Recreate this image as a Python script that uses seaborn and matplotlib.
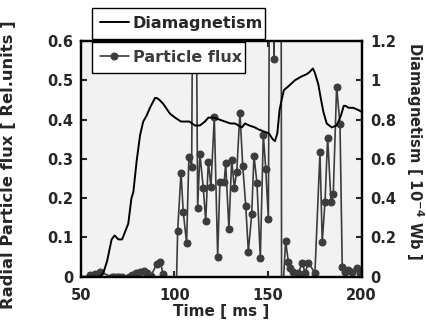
import numpy as np
import pandas as pd
import matplotlib
matplotlib.use("Agg")
import matplotlib.pyplot as plt
import seaborn as sns

# Diamagnetism (right axis, 10^-4 Wb)
dia_time = [50, 55, 60, 62, 64, 66.4, 68, 70, 72, 75.3, 77, 78, 79.8, 81.6, 83.3, 85.1,
            86.9, 89.6, 90.5, 92, 94, 97.6, 100.3, 103.5, 105.6, 108, 110.9, 113.6,
            116.3, 118.1, 121, 124, 127, 130, 132.4, 136, 137.7, 140, 143, 145, 147.5,
            150.5, 152.5, 153.7, 155, 156.2, 157.3, 158.5, 161, 164.4, 168, 170.5, 172,
            174, 175, 176.9, 178, 179.6, 181.4, 184.1, 186.7, 189, 190.5, 191.5, 193,
            195.5, 198, 200]
dia_vals = [0, 0, 0, 0.02, 0.08, 0.19, 0.21, 0.19, 0.19, 0.27, 0.40, 0.43, 0.59, 0.72,
            0.79, 0.82, 0.86, 0.91, 0.91, 0.90, 0.88, 0.83, 0.81, 0.79, 0.79, 0.79, 0.77,
            0.77, 0.79, 0.81, 0.81, 0.80, 0.79, 0.78, 0.78, 0.76, 0.78, 0.77, 0.76, 0.75,
            0.74, 0.73, 0.70, 0.69, 0.73, 0.85, 0.90, 0.95, 0.97, 1.00, 1.02, 1.03, 1.04,
            1.06, 1.04, 0.98, 0.92, 0.84, 0.78, 0.76, 0.77, 0.82, 0.87, 0.87, 0.86, 0.86,
            0.85, 0.84]

# Particle flux (left axis, rel. units)
flux_time = [54.8, 57.3, 60.2, 66.4, 67.8, 69.1, 70.5, 71.8, 75.5, 77.5, 79.5, 81.5,
             83.5, 85.5, 87.5, 90.5, 92.5, 93.8, 96, 98.5, 101.0, 101.7, 103.5, 104.7,
             106.5, 107.7, 109.2, 110.6, 112.4, 113.6, 115.4, 116.7, 118.1, 119.5, 121.3,
             123.1, 124.3, 126.6, 127.4, 129.1, 130.6, 132, 133.3, 135, 136.5, 138.1,
             139.5, 141.3, 142.5, 144.1, 145.9, 147.5, 148.8, 150.2, 151.5, 153.2, 154.3,
             156.8, 157.3, 159.4, 160.9, 161.8, 163.5, 166.2, 168.4, 169.8, 171.6, 175.1,
             177.8, 179, 180.5, 181.9, 183.7, 184.9, 186.7, 188.5, 189.7, 191.2, 192.9,
             194.8, 197.4, 199.2]
flux_vals = [0.005, 0.008, 0.012, 0.0, 0.0, 0.0, 0.0, 0.0, 0.0, 0.005, 0.01, 0.012,
             0.015, 0.01, 0.003, 0.032, 0.038, 0.008, -0.03, -0.03, -0.03, 0.116, 0.265,
             0.165, 0.085, 0.305, 0.28, 1.5, 0.176, 0.312, 0.227, 0.142, 0.293, 0.229,
             0.407, 0.051, 0.242, 0.242, 0.289, 0.121, 0.297, 0.227, 0.267, 0.418, 0.282,
             0.181, 0.064, 0.159, 0.308, 0.239, 0.047, 0.362, 0.274, 0.146, 1.5, 0.554,
             1.5, 1.5, -0.1, 0.091, 0.038, 0.021, 0.013, 0.009, 0.036, 0.009, 0.036, 0.009,
             0.317, 0.088, 0.191, 0.354, 0.191, 0.21, 0.484, 0.388, 0.025, 0.011, 0.017,
             0.011, 0.021, 0.009]

x_ticks = [50, 100, 150, 200]
left_ticks = [0, 0.1, 0.2, 0.3, 0.4, 0.5, 0.6]
right_ticks = [0, 0.2, 0.4, 0.6, 0.8, 1.0, 1.2]

sns.set_style("ticks")
plt.rcParams['font.family'] = ['DejaVu Sans']
plt.rcParams['font.weight'] = 'bold'
plt.rcParams['mathtext.default'] = 'bf'

df_dia = pd.DataFrame({"t": dia_time, "v": dia_vals})
df_flux = pd.DataFrame({"t": flux_time, "v": flux_vals})

fig = plt.figure(figsize=(4.26, 3.27), dpi=100)
ax = fig.add_axes([0.190, 0.1538, 0.6586, 0.7208])
ax.set_facecolor("#f2f2f2")
ax2 = ax.twinx()

gray = "#3c3c3c"
sns.lineplot(data=df_flux, x="t", y="v", ax=ax, color=gray, lw=1.2, marker="o",
             markersize=5, markeredgecolor=gray, markerfacecolor=gray,
             sort=False, estimator=None, label="Particle flux", legend=False)
sns.lineplot(data=df_dia, x="t", y="v", ax=ax2, color="black", lw=1.4,
             sort=False, estimator=None, label="Diamagnetism", legend=False)

ax.set_xlim(50, 200)
ax.set_ylim(0, 0.6)
ax2.set_ylim(0, 1.2)
ax.set_xticks(x_ticks)
ax.set_xticklabels([str(v) for v in x_ticks])
ax.set_yticks(left_ticks)
ax.set_yticklabels(["0", "0.1", "0.2", "0.3", "0.4", "0.5", "0.6"])
ax2.set_yticks(right_ticks)
ax2.set_yticklabels(["0", "0.2", "0.4", "0.6", "0.8", "1", "1.2"])

for a in (ax, ax2):
    for s in a.spines.values():
        s.set_linewidth(1.6)
        s.set_color("black")
ax.tick_params(axis="x", direction="in", length=4, width=1.5, labelsize=10.5,
               top=True, pad=8)
ax.tick_params(axis="y", direction="in", length=4, width=1.5, labelsize=10.5,
               right=False, pad=5.5)
ax2.tick_params(axis="y", direction="in", length=4, width=1.5, labelsize=10.5, pad=6)

ax.set_xlabel("Time [ ms ]", fontsize=11, fontweight="bold", labelpad=1)
ax.set_ylabel("Radial Particle flux [ Rel.units ]", fontsize=11.8, fontweight="bold")
ax.yaxis.set_label_coords(-0.232, 0.474)
ax2.set_ylabel(r"Diamagnetism [ 10$^{-4}$ Wb ]", fontsize=10.6, fontweight="bold",
               rotation=270, va="center")
ax2.yaxis.set_label_coords(1.19, 0.533)

h_flux = ax.get_lines()[0]
h_dia = ax2.get_lines()[0]
W, H = 426.0, 327.0
common = dict(frameon=True, fancybox=False, edgecolor="black", framealpha=1,
              fontsize=11.5, handlelength=1.8, handletextpad=0.25, borderpad=0.5,
              borderaxespad=0, loc="upper left", mode="expand",
              bbox_transform=fig.transFigure)
leg1 = fig.legend([h_dia], ["Diamagnetism"],
                  bbox_to_anchor=(92 / W, 1 - 42 / H, 173 / W, 34 / H), **common)
leg2 = fig.legend([h_flux], ["Particle flux"],
                  bbox_to_anchor=(92 / W, 1 - 75 / H, 153 / W, 33 / H), **common)
leg1.get_frame().set_linewidth(1.0)
leg2.get_frame().set_linewidth(1.0)
for t in leg2.get_texts():
    t.set_color(gray)

fig.savefig("out.png", dpi=100)
